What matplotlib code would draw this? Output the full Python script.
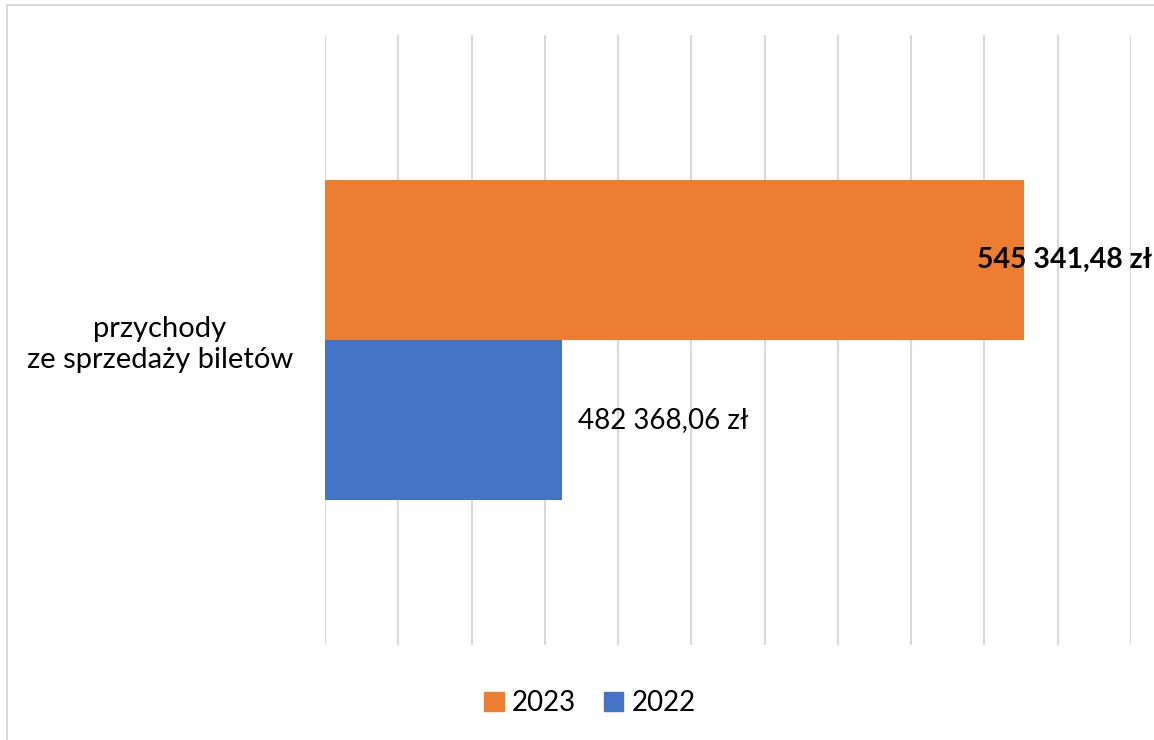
"""Excel-style horizontal bar chart: ticket sales revenue 2023 vs 2022"""

import matplotlib
matplotlib.use("Agg")
from matplotlib import pyplot as plt
from matplotlib.patches import Patch, Rectangle

# Data
category = "przychody\nze sprzedaży biletów"
years = ["2023", "2022"]
values = [545341.48, 482368.06]
value_labels = ["545 341,48 zł", "482 368,06 zł"]
colors = ["#ED7D31", "#4472C4"]

# Axis range (Excel auto axis, labels hidden)
x_min, x_max, x_step = 450000, 560000, 10000

plt.rcParams['font.family'] = ['Lato', 'DejaVu Sans']

fig = plt.figure(figsize=(11.54, 7.40), dpi=100)
ax = fig.add_axes([325 / 1154, 1 - 645 / 740, 806 / 1154, 610 / 740])

# Outer chart border (cropped on right and bottom)
fig.patches.append(Rectangle(
    (7 / 1154, -0.1), 1.2, 1 - 5 / 740 + 0.1,
    transform=fig.transFigure, fill=False,
    edgecolor='#d9d9d9', linewidth=1.5
))

# Bars: 2023 on top, 2022 below
y_pos = [0.25, -0.25]
for y, v, c in zip(y_pos, values, colors):
    ax.barh(y, v - x_min, left=x_min, height=0.5, color=c, zorder=2)

# Data labels
ax.annotate(value_labels[0], xy=(values[0], y_pos[0]),
            xytext=(-47, 0), textcoords='offset pixels',
            ha='left', va='center', fontsize=20.5, fontweight='bold',
            color='black', zorder=3, annotation_clip=False)
ax.annotate(value_labels[1], xy=(values[1], y_pos[1]),
            xytext=(16, 0), textcoords='offset pixels',
            ha='left', va='center', fontsize=20,
            color='black', zorder=3, annotation_clip=False)

# Axes
ax.set_xlim(x_min, x_max)
ax.set_ylim(-0.953, 0.953)
ax.set_xticks(range(x_min, x_max + 1, x_step))
ax.set_xticklabels([])
ax.grid(True, axis='x', color='#d9d9d9', linewidth=1.5, zorder=0)
ax.set_yticks([0])
ax.set_yticklabels([category], fontsize=21, multialignment='center')
ax.tick_params(axis='both', which='both', length=0)
ax.tick_params(axis='y', pad=23)
for side in ['top', 'right', 'bottom', 'left']:
    ax.spines[side].set_visible(False)

# Legend
handles = [Patch(color=c) for c in colors]
fig.legend(handles, years, loc='center', ncol=2,
           bbox_to_anchor=(590 / 1154, 1 - 703 / 740),
           frameon=False, fontsize=20, handlelength=0.7,
           handleheight=0.7, handletextpad=0.3, columnspacing=1.0)

plt.savefig("out.png", dpi=100)
